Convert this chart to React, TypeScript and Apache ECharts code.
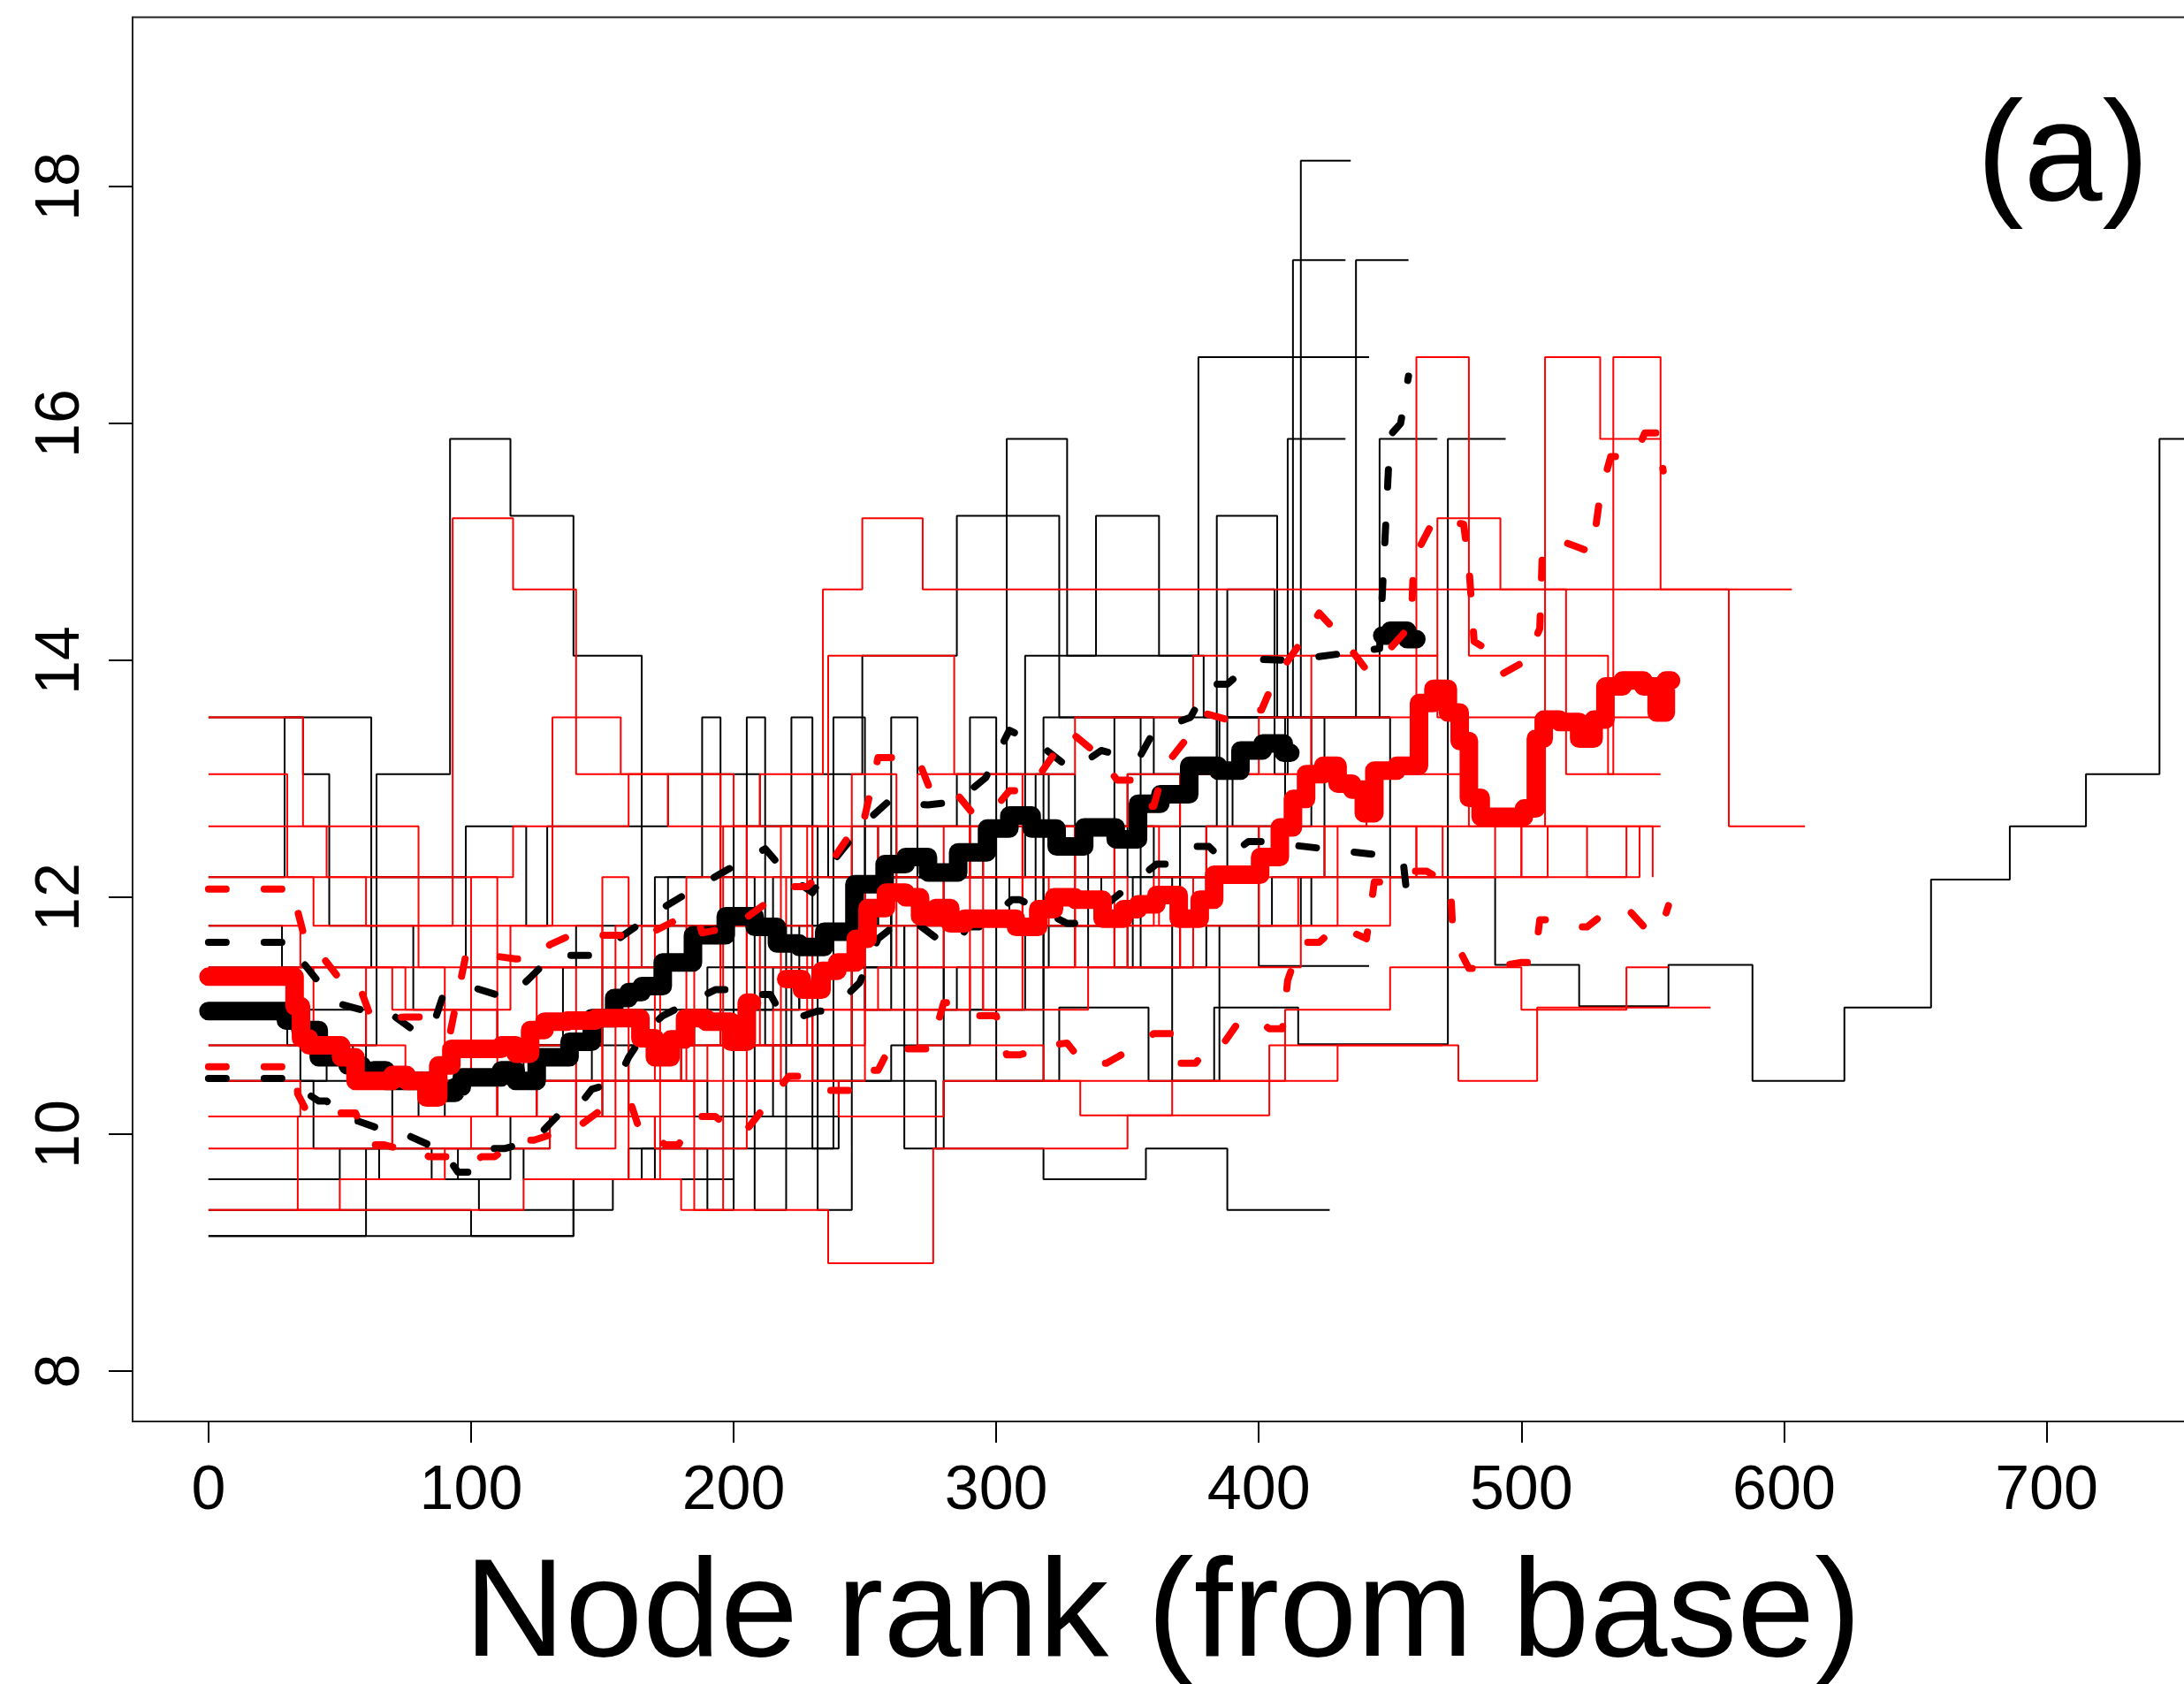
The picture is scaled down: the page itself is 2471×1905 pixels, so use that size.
import React, { useEffect, useRef } from "react";
import * as echarts from "echarts";

// ---- axis ticks ----
const xTicks = [0, 100, 200, 300, 400, 500, 600, 700];
const yTicks = [8, 10, 12, 14, 16, 18];

// ---- thin black step lines (node rank, value) ----
const black1 = [[0,9.14],[139,9.36],[154,9.62],[200,9.88],[240,10.15],[280,10.45],[324,11.07],[358,10.45],[383,11.07],[415,10.76],[472,12.17],[490,11.43],[522,11.08],[556,11.43],[588,10.45],[623,11.07],[656,12.15],[686,12.6],[715,13.04],[743,15.87],[760,15.87]];
const black2 = [[0,13.52],[36,13.04],[46,11.76],[62,12.17],[98,12.6],[121,11.76],[129,12.6],[175,13.04],[210,12.6],[230,13.04],[249,14.04],[285,15.22],[324,13.52],[360,13.04],[384,13.52],[416,18.22],[435,18.22]];
const black3 = [[0,12.17],[29,13.52],[62,12.17],[98,11.41],[140,11.76],[170,12.17],[205,12.6],[236,12.17],[262,12.6],[304,15.87],[327,14.04],[379,13.52],[413,17.38],[433,17.38]];
const black4 = [[0,11.76],[28,11.41],[62,11.76],[78,11.05],[110,10.75],[150,11.05],[190,11.41],[220,11.76],[260,12.17],[311,14.04],[338,15.22],[362,14.04],[377,16.56],[442,16.56]];
const black5 = [[0,11.41],[33,11.05],[60,10.45],[100,10.75],[135,11.41],[175,11.76],[215,12.17],[250,12.6],[285,13.04],[320,12.6],[350,13.04],[385,13.52],[437,17.38],[457,17.38]];
const black6 = [[0,10.75],[35,10.45],[70,10.15],[110,10.45],[146,10.75],[185,11.05],[225,11.41],[265,11.76],[305,12.17],[350,12.6],[384,15.22],[407,13.52],[446,15.87],[468,15.87]];
const black7 = [[0,10.45],[45,10.75],[64,13.04],[92,15.87],[115,15.22],[139,14.04],[165,11.76],[200,12.6],[232,11.41],[260,12.17],[300,11.76],[340,12.17],[380,12.6],[420,13.52],[450,12.17],[472,15.87],[494,15.87]];
const black8 = [[0,10.15],[40,9.88],[65,9.62],[95,9.88],[130,10.15],[160,10.45],[190,10.15],[215,10.75],[245,11.41],[280,11.05],[311,11.76],[345,11.41],[370,12.17],[388,14.6],[406,13.04],[411,15.87],[433,15.87]];
const black9 = [[0,9.62],[50,9.88],[85,9.62],[115,10.15],[150,10.45],[180,11.05],[215,11.41],[250,11.05],[285,11.41],[320,11.76],[350,11.41],[380,11.76],[416,12.17],[455,12.17]];
const black10 = [[0,9.36],[60,9.62],[103,9.36],[139,9.62],[170,10.15],[200,10.75],[230,10.45],[260,10.75],[290,11.05],[318,13.52],[450,13.52]];
const black11 = [[0,11.05],[30,10.75],[55,10.45],[90,10.15],[125,10.45],[160,10.75],[195,11.05],[225,11.76],[255,12.17],[295,12.6],[328,12.6],[360,12.17],[400,11.42],[442,11.42]];
const black12 = [[0,9.14],[60,9.36],[100,9.14],[139,9.62],[165,9.88],[200,10.15],[240,10.45],[277,9.88],[318,9.62],[357,9.88],[388,9.36],[427,9.36]];
const black13 = [[0,10.45],[40,10.15],[80,10.45],[120,10.75],[150,11.41],[175,12.17],[188,13.52],[195,11.41],[205,13.52],[212,10.75],[222,13.52],[230,9.88],[238,13.52],[250,11.05],[260,13.52],[270,12.17],[290,13.52],[300,11.76],[315,13.04],[330,12.17],[345,13.52],[355,11.41],[370,13.04],[390,12.6],[410,13.52],[425,12.17]];
const black14 = [[0,9.62],[60,9.88],[120,9.62],[160,9.88],[190,9.36],[200,12.17],[208,9.36],[220,11.41],[232,9.36],[245,12.6],[255,11.76],[265,9.88],[280,12.17],[300,10.45],[318,12.6],[335,11.41],[352,12.17],[367,10.45],[385,11.76],[405,12.17],[420,11.76]];

// ---- thin red step lines ----
const red1 = [[0,13.52],[36,12.6],[80,12.17],[116,12.6],[160,13.04],[200,12.6],[236,14.04],[284,13.04],[330,13.52],[375,14.04],[468,15.2],[492,14.6],[579,12.6],[608,12.6]];
const red2 = [[0,13.04],[30,12.17],[60,11.76],[93,15.2],[116,14.6],[140,13.04],[175,12.6],[210,13.04],[234,14.6],[249,15.2],[272,14.6],[517,13.04],[535,16.56],[553,14.6],[603,14.6]];
const red3 = [[0,12.6],[45,12.17],[80,11.76],[131,13.52],[157,13.04],[195,12.17],[230,12.6],[270,13.04],[310,12.6],[350,13.04],[400,13.52],[460,16.56],[480,14.04],[509,16.56],[530,15.87],[553,15.87]];
const red4 = [[0,12.17],[40,11.76],[80,11.41],[115,11.76],[150,11.41],[185,11.76],[220,12.17],[255,12.6],[290,12.17],[330,12.6],[370,13.04],[420,14.04],[468,13.52],[553,13.52]];
const red5 = [[0,10.75],[34,11.41],[70,11.05],[110,10.75],[150,10.45],[190,10.75],[230,11.05],[270,10.75],[318,10.45],[402,10.45],[430,10.75],[476,10.45],[506,11.07],[572,11.07]];
const red6 = [[0,11.76],[35,11.41],[75,11.05],[115,11.41],[165,11.76],[205,11.41],[245,11.76],[280,12.17],[320,11.76],[360,12.17],[400,12.6],[441,13.04],[480,12.6],[509,14.04],[533,13.04],[553,13.04]];
const red7 = [[0,9.88],[34,9.36],[120,9.62],[180,9.36],[236,8.91],[276,9.88],[350,10.16],[404,10.75],[470,10.75]];
const red8 = [[0,10.15],[34,9.88],[70,10.15],[110,10.45],[150,10.15],[185,10.45],[215,10.75],[250,11.05],[290,11.41],[330,11.76],[370,11.41],[416,11.76],[450,12.17],[490,12.6],[525,12.17],[545,12.6]];
const red9 = [[0,9.36],[50,9.62],[90,9.88],[130,10.15],[170,9.88],[205,10.45],[240,10.15],[280,10.45],[332,10.16],[367,10.45],[410,11.05],[450,11.41],[500,11.05],[540,11.41],[556,11.41]];
const red10 = [[0,11.05],[36,10.75],[75,10.45],[110,10.15],[140,10.45],[180,10.75],[215,11.05],[255,11.41],[295,11.05],[335,11.41],[375,11.76],[415,12.17],[460,12.6],[500,12.17],[540,12.6],[553,12.6]];
const red11 = [[0,10.45],[35,10.15],[70,9.88],[100,10.15],[125,10.45],[150,12.17],[160,9.62],[172,11.41],[185,9.36],[196,12.6],[205,10.45],[218,12.6],[228,10.75],[245,13.04],[262,11.41],[280,12.6],[295,11.05],[310,12.6],[330,11.41],[345,12.6],[362,11.76],[380,12.6],[400,12.17],[425,12.6],[460,12.17],[500,12.6],[540,12.6]];
const red12 = [[0,11.41],[40,10.75],[60,11.41],[90,10.45],[100,12.17],[110,10.15],[125,11.41],[140,9.88],[155,11.76],[170,10.45],[182,12.17],[195,10.75],[210,11.76],[230,10.45],[250,12.17],[270,11.05],[290,12.6],[310,11.41],[330,12.17],[350,11.41],[375,12.17],[400,11.76],[430,12.6],[470,12.17],[510,12.6],[550,12.17]];

// ---- black mean and bands ----
const blackMean = [[0,11.04],[28,11.04],[31,10.96],[39,10.88],[45,10.65],[51,10.65],[55,10.58],[62,10.5],[64,10.54],[71,10.45],[82,10.45],[87,10.35],[93,10.35],[95,10.4],[98,10.48],[109,10.48],[114,10.54],[120,10.45],[130,10.65],[135,10.65],[140,10.78],[152,10.98],[157,11.15],[163,11.2],[167,11.25],[179,11.45],[190,11.68],[204,11.84],[212,11.75],[221,11.61],[229,11.58],[240,11.71],[252,12.11],[263,12.28],[268,12.34],[280,12.21],[291,12.38],[302,12.58],[308,12.69],[319,12.58],[327,12.43],[340,12.59],[351,12.49],[357,12.79],[368,12.87],[379,13.11],[390,13.07],[396,13.24],[407,13.3],[412,13.22]];
const blackMeanTail = [[447,14.21],[453,14.25],[460,14.18]];
const blackHigh = [[0,11.62],[33,11.62],[36,11.45],[45,11.2],[50,11.1],[60,11.04],[68,11.04],[78,10.88],[85,10.88],[89,11.15],[98,11.23],[102,11.23],[114,11.15],[122,11.31],[131,11.51],[148,11.51],[158,11.68],[173,11.91],[188,12.11],[199,12.25],[212,12.41],[221,12.18],[230,12.04],[237,12.28],[249,12.61],[259,12.81],[274,12.78],[285,12.81],[296,13.01],[305,13.41],[317,13.28],[329,13.07],[340,13.24],[354,13.16],[360,13.4],[374,13.52],[381,13.8],[388,13.8],[399,14.01],[412,14.0],[446,14.1],[450,15.9],[454,16.0],[457,16.4]];
const blackLow = [[0,10.47],[33,10.47],[35,10.38],[42,10.28],[45,10.28],[54,10.11],[57,10.11],[66,10.04],[71,10.04],[84,9.91],[88,9.91],[95,9.68],[100,9.68],[107,9.88],[113,9.88],[124,9.95],[134,10.18],[139,10.18],[146,10.38],[152,10.42],[157,10.51],[160,10.65],[167,10.88],[173,11.0],[193,11.22],[199,11.22],[209,11.18],[214,11.18],[219,10.98],[224,10.98],[232,11.04],[237,11.04],[248,11.28],[255,11.65],[264,11.81],[268,11.81],[280,11.61],[285,11.61],[289,11.75],[294,11.75],[306,11.98],[309,11.98],[327,11.78],[333,11.78],[361,12.28],[367,12.28],[376,12.43],[381,12.43],[385,12.34],[388,12.34],[396,12.47],[401,12.47],[449,12.35],[455,12.3],[457,11.9]];

// ---- red mean and bands ----
const redMeanA = [[0,11.33],[31.6,11.33],[34,11.08],[36.5,10.81],[40,10.75],[47,10.75],[54,10.65],[58,10.45],[69,10.45],[71,10.5],[80,10.45],[86,10.31],[89,10.58],[96,10.72],[109,10.72],[114,10.75],[120,10.68],[125,10.88],[131,10.95],[142,10.96],[153,10.98],[162,10.98],[167,10.81],[173,10.65],[179,10.8],[184,10.98],[195,10.95],[203,10.78],[207,11.11]];
const redMeanB = [[220,11.31],[232,11.22],[235,11.38],[244,11.45],[249,11.65],[253,11.91],[263,12.04],[268,12.0],[274,11.84],[280,11.91],[285,11.78],[291,11.82],[302,11.82],[313,11.75],[319,11.9],[325,12.0],[335,11.98],[346,11.82],[351,11.9],[357,11.94],[365,12.02],[374,11.82],[381,11.98],[385,12.19],[396,12.19],[405,12.34],[411,12.59],[415,12.83],[421,13.04],[428,13.11],[432,12.96],[439,12.91],[441,12.71],[447,13.07],[458,13.11],[464,13.64],[469,13.76],[475,13.56],[478,13.32],[482,12.84],[487,12.68],[498,12.68],[504,12.75],[507,13.34],[510,13.5],[519,13.48],[525,13.34],[530,13.5],[534,13.78],[543,13.83],[550,13.78],[553,13.56],[557,13.83]];
const redHigh = [[0,12.07],[33,12.07],[34,11.88],[36,11.71],[51,11.28],[57,11.28],[62,10.98],[67,10.98],[75,10.99],[81,10.99],[90,10.88],[92,10.85],[98,11.51],[107,11.51],[117,11.48],[125,11.48],[130,11.6],[138,11.68],[156,11.68],[165,11.66],[181,11.84],[186,11.84],[188,11.7],[200,11.75],[221,12.09],[228,12.09],[236,12.26],[243,12.49],[248,12.49],[255,13.18],[270,13.18],[275,12.9],[284,12.9],[291,12.71],[298,12.71],[305,12.9],[312,12.9],[317,13.05],[328,13.4],[339,13.2],[346,12.99],[351,12.99],[356,12.77],[360,12.77],[364,13.1],[380,13.55],[388,13.5],[397,13.58],[401,13.58],[406,13.84],[415,14.12],[423,14.4],[431,14.21],[441,13.92],[448,14.05],[458,14.3],[459,14.86],[467,15.2],[478,15.15],[480,14.8],[482,14.16],[490,14.05],[493,13.89],[502,14.0],[507,14.27],[508,14.93],[515,15.01],[527,14.91],[530,15.4],[534,15.72],[543,15.72],[547,15.92],[552,15.92],[554,15.6]];
const redLow = [[0,10.57],[33,10.57],[34,10.34],[37,10.21],[47,10.18],[56,10.18],[61,9.91],[67,9.91],[72,9.88],[79,9.88],[84,9.81],[91,9.81],[98,9.75],[100,9.75],[104,9.81],[109,9.81],[118,9.95],[124,9.95],[131,10.0],[140,10.05],[151,10.23],[161,10.25],[165,9.98],[170,9.98],[174,9.91],[179,9.91],[185,10.15],[193,10.15],[201,10.01],[204,10.01],[221,10.49],[228,10.49],[235,10.37],[244,10.37],[248,10.54],[255,10.54],[261,10.8],[266,10.72],[275,10.72],[280,11.11],[287,11.11],[293,11.0],[300,11.0],[304,10.67],[309,10.67],[320,10.75],[327,10.77],[333,10.6],[342,10.6],[350,10.7],[360,10.85],[368,10.85],[369,10.6],[376,10.6],[382,10.78],[387,10.78],[393,10.97],[399,10.97],[404,10.89],[409,10.89],[411,11.3],[416,11.62],[423,11.62],[429,11.74],[432,11.74],[441,11.65],[444,12.13],[448,12.13],[458,12.22],[464,12.22],[473,12.1],[474,11.66],[480,11.4],[487,11.4],[500,11.45],[505,11.45],[507,11.81],[511,11.81],[520,11.75],[525,11.75],[533,11.89],[541,11.89],[548,11.72],[553,11.72],[556,11.93]];

const blackRuns = [black1, black2, black3, black4, black5, black6, black7, black8, black9, black10, black11, black12, black13, black14];
const redRuns = [red1, red2, red3, red4, red5, red6, red7, red8, red9, red10, red11, red12];

const FONT = "'Liberation Sans', Arial, sans-serif";

function thin(data: number[][], color: string) {
  return {
    type: "line",
    data,
    step: "end",
    symbol: "none",
    showSymbol: false,
    silent: true,
    lineStyle: { color, width: 2 },
  };
}
function dashed(data: number[][], color: string) {
  return {
    type: "line",
    data,
    symbol: "none",
    showSymbol: false,
    silent: true,
    lineStyle: { color, width: 8, type: [20, 43], cap: "round", join: "round" },
  };
}
function thick(data: number[][], color: string) {
  return {
    type: "line",
    data,
    step: "middle",
    symbol: "none",
    showSymbol: false,
    silent: true,
    lineStyle: { color, width: 21, cap: "round", join: "round" },
  };
}

export default function App() {
  const ref = useRef<HTMLDivElement>(null);
  useEffect(() => {
    document.body.style.margin = "0";
    document.body.style.overflow = "hidden";
    const chart = echarts.init(ref.current as HTMLDivElement, null, { renderer: "svg" });
    const option: any = {
      animation: false,
      backgroundColor: "#ffffff",
      grid: {
        left: 150,
        top: 19.5,
        right: -10,
        height: 1588.5,
        show: true,
        borderColor: "#222",
        borderWidth: 2,
        backgroundColor: "transparent",
        containLabel: false,
        outerBoundsMode: "none",
      },
      xAxis: {
        type: "value",
        min: -28.9,
        max: 755.7,
        axisLine: { show: false, onZero: false },
        splitLine: { show: false },
        axisTick: { show: true, length: 24, lineStyle: { color: "#000", width: 2 }, customValues: xTicks },
        axisLabel: { customValues: xTicks, fontSize: 70, fontFamily: FONT, color: "#000", margin: 40 },
        name: "Node rank (from base)",
        nameLocation: "middle",
        nameGap: 131,
        nameTextStyle: { fontSize: 158, fontFamily: FONT, color: "#000" },
      },
      yAxis: {
        type: "value",
        min: 7.575,
        max: 19.43,
        axisLine: { show: false, onZero: false },
        splitLine: { show: false },
        axisTick: { show: true, length: 27, lineStyle: { color: "#000", width: 2 }, customValues: yTicks },
        axisLabel: { customValues: yTicks, rotate: 90, fontSize: 70, fontFamily: FONT, color: "#000", margin: 50 },
      },
      graphic: [
        {
          type: "text",
          x: 2334,
          y: 170,
          style: {
            text: "(a)",
            fontSize: 160,
            fontFamily: FONT,
            fill: "#000",
            textAlign: "center",
            textVerticalAlign: "middle",
            align: "center",
            verticalAlign: "middle",
          },
        },
      ],
      series: [
        ...blackRuns.map((d) => thin(d, "#000000")),
        ...redRuns.map((d) => thin(d, "#ff0000")),
        dashed(blackHigh, "#000000"),
        dashed(blackLow, "#000000"),
        thick(blackMean, "#000000"),
        thick(blackMeanTail, "#000000"),
        dashed(redHigh, "#ff0000"),
        dashed(redLow, "#ff0000"),
        thick(redMeanA, "#ff0000"),
        thick(redMeanB, "#ff0000"),
      ],
    };
    chart.setOption(option);
    return () => chart.dispose();
  }, []);
  return <div ref={ref} style={{ width: 2471, height: 1905 }} />;
}
